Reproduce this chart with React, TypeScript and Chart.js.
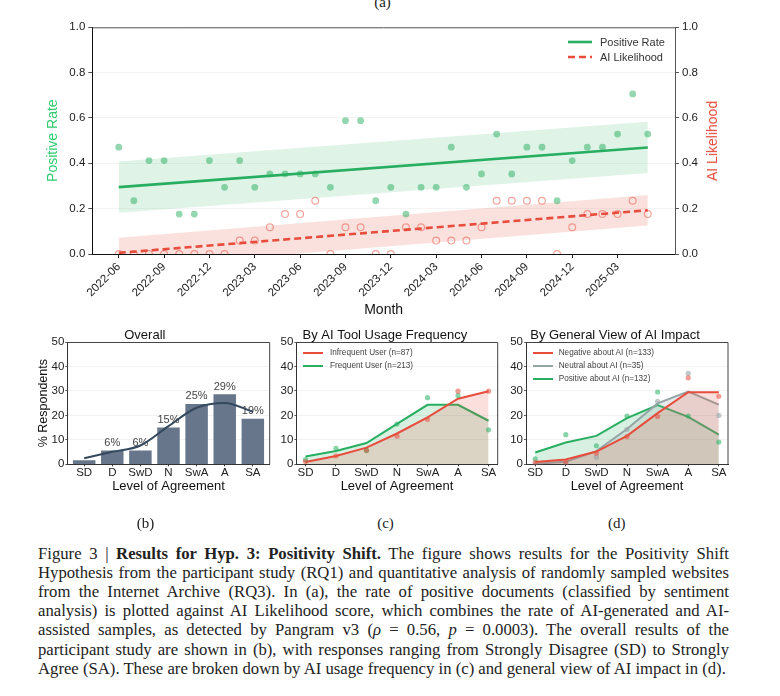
import React, { useEffect, useRef } from 'react';
import { Chart, registerables } from 'chart.js';

Chart.register(...registerables);

// ---------- (a) monthly data ----------
const months = [
  '2022-06', '2022-07', '2022-08', '2022-09', '2022-10', '2022-11', '2022-12',
  '2023-01', '2023-02', '2023-03', '2023-04', '2023-05', '2023-06', '2023-07',
  '2023-08', '2023-09', '2023-10', '2023-11', '2023-12', '2024-01', '2024-02',
  '2024-03', '2024-04', '2024-05', '2024-06', '2024-07', '2024-08', '2024-09',
  '2024-10', '2024-11', '2024-12', '2025-01', '2025-02', '2025-03', '2025-04',
  '2025-05',
];
const monthTickLabels = [
  '2022-06', '2022-09', '2022-12', '2023-03', '2023-06', '2023-09',
  '2023-12', '2024-03', '2024-06', '2024-09', '2024-12', '2025-03',
];
const positiveRate = [
  0.471, 0.235, 0.412, 0.412, 0.176, 0.176, 0.412, 0.294, 0.412, 0.294,
  0.353, 0.353, 0.353, 0.353, 0.294, 0.588, 0.588, 0.235, 0.294, 0.176,
  0.294, 0.294, 0.471, 0.294, 0.353, 0.529, 0.353, 0.471, 0.471, 0.235,
  0.412, 0.471, 0.471, 0.529, 0.706, 0.529,
];
const aiLikelihood = [
  0, 0, 0, 0, 0, 0, 0, 0, 0.059, 0.059,
  0.118, 0.176, 0.176, 0.235, 0, 0.118, 0.118, 0, 0, 0.118,
  0.118, 0.059, 0.059, 0.059, 0.118, 0.235, 0.235, 0.235, 0.235, 0,
  0.118, 0.176, 0.176, 0.176, 0.235, 0.176,
];
const trendMonths = ['2022-06', '2025-05'];
const positiveTrend = [0.295, 0.47];
const positiveBandUpper = [0.408, 0.583];
const positiveBandLower = [0.182, 0.357];
const aiTrend = [0.005, 0.193];
const aiBandUpper = [0.072, 0.26];
const aiBandLower = [-0.062, 0.126];

// ---------- (b)(c)(d) survey data ----------
const levels = ['SD', 'D', 'SwD', 'N', 'SwA', 'A', 'SA'];
const overallPct = [1.67, 5.67, 5.67, 15.0, 24.67, 28.67, 18.67];
const overallLabels = ['', '6%', '6%', '15%', '25%', '29%', '19%'];
const overallSmooth = [2.5, 5.1, 7.7, 15.6, 23.1, 25.1, 21.5];

const infrequentLine = [0.9, 3.4, 6.8, 12.6, 19.2, 26.8, 29.9];
const infrequentPts = [1.15, 3.45, 5.75, 11.49, 18.39, 29.89, 29.89];
const frequentLine = [3.2, 5.4, 8.7, 16.5, 24.3, 24.3, 17.8];
const frequentPts = [1.88, 6.57, 5.63, 16.43, 27.23, 28.17, 14.08];

const negativeLine = [0.9, 2.0, 5.2, 11.6, 20.9, 29.5, 29.5];
const negativePts = [0.75, 0.75, 4.51, 11.28, 19.55, 35.34, 27.82];
const neutralLine = [0.2, 1.0, 5.4, 14.4, 24.9, 29.7, 24.4];
const neutralPts = [0, 0, 2.86, 14.29, 25.71, 37.14, 20.0];
const positiveLine = [4.8, 8.9, 11.6, 18.9, 24.2, 19.4, 12.1];
const positivePts = [2.27, 12.12, 7.58, 19.7, 29.55, 19.7, 9.09];

const FONT = '"Liberation Sans", Arial, Helvetica, sans-serif';
const SERIF = '"Liberation Serif", "Times New Roman", serif';

const GREEN = '#27ae60';
const RED = '#e74c3c';
const GRAY = '#95a5a6';

const pts = (arr: number[]) => arr.map((v, i) => ({ x: i, y: v }));

const framePlugin = {
  id: 'frame',
  afterDatasetsDraw(chart: any, _args: any, opts: any) {
    const { ctx, chartArea: a } = chart;
    ctx.save();
    ctx.strokeStyle = opts.color || '#444';
    ctx.lineWidth = 1;
    ctx.beginPath();
    ctx.moveTo(a.left, a.top + 0.5);
    ctx.lineTo(a.right, a.top + 0.5);
    if (opts.right) ctx.lineTo(a.right, a.bottom);
    ctx.stroke();
    ctx.restore();
  },
};

const barLabelPlugin = {
  id: 'barLabels',
  afterDatasetDraw(chart: any, args: any) {
    if (args.index !== 1) return;
    const ctx = chart.ctx;
    ctx.save();
    ctx.font = `11px ${FONT}`;
    ctx.fillStyle = '#444';
    ctx.textAlign = 'center';
    ctx.textBaseline = 'bottom';
    args.meta.data.forEach((el: any, i: number) => {
      const t = overallLabels[i];
      if (t) ctx.fillText(t, el.x, el.y - 2);
    });
    ctx.restore();
  },
};

function topConfig(): any {
  const t0 = months.indexOf(trendMonths[0]);
  const t1 = months.indexOf(trendMonths[1]);
  const seg = (v: number[]) => [{ x: t0, y: v[0] }, { x: t1, y: v[1] }];
  const tickIdx = monthTickLabels.map((m) => months.indexOf(m));
  const yTicks = { stepSize: 0.2, callback: (v: any) => Number(v).toFixed(1), font: { size: 11.5, family: FONT }, color: '#222', padding: 3 };
  return {
    type: 'scatter',
    data: {
      datasets: [
        { label: 'pos-pts', data: pts(positiveRate), yAxisID: 'y', showLine: false, pointRadius: 3.4, pointBackgroundColor: 'rgba(39,174,96,0.5)', pointBorderWidth: 0, pointBorderColor: 'rgba(0,0,0,0)' },
        { label: 'ai-pts', data: pts(aiLikelihood), yAxisID: 'y2', showLine: false, pointRadius: 3.4, pointBackgroundColor: 'rgba(0,0,0,0)', pointBorderColor: 'rgba(231,76,60,0.5)', pointBorderWidth: 1.2 },
        { label: 'Positive Rate', data: seg(positiveTrend), yAxisID: 'y', showLine: true, borderColor: GREEN, borderWidth: 2.6, pointRadius: 0, fill: false },
        { label: 'AI Likelihood', data: seg(aiTrend), yAxisID: 'y2', showLine: true, borderColor: RED, borderWidth: 2.6, borderDash: [7, 4], pointRadius: 0, fill: false },
        { label: 'pos-up', data: seg(positiveBandUpper), yAxisID: 'y', showLine: true, borderColor: 'rgba(0,0,0,0)', borderWidth: 1, pointRadius: 0, fill: '+1', backgroundColor: 'rgba(39,174,96,0.15)' },
        { label: 'pos-lo', data: seg(positiveBandLower), yAxisID: 'y', showLine: true, borderColor: 'rgba(0,0,0,0)', borderWidth: 1, pointRadius: 0, fill: false },
        { label: 'ai-up', data: seg(aiBandUpper), yAxisID: 'y2', showLine: true, borderColor: 'rgba(0,0,0,0)', borderWidth: 1, pointRadius: 0, fill: '+1', backgroundColor: 'rgba(231,76,60,0.17)' },
        { label: 'ai-lo', data: seg(aiBandLower), yAxisID: 'y2', showLine: true, borderColor: 'rgba(0,0,0,0)', borderWidth: 1, pointRadius: 0, fill: false },
      ],
    },
    options: {
      responsive: false,
      animation: false,
      events: [],
      layout: { padding: { top: 27.3, left: 0, right: 0, bottom: 0 } },
      plugins: { legend: { display: false }, tooltip: { enabled: false }, title: { display: false }, frame: { color: '#555', right: false } },
      scales: {
        x: {
          type: 'linear',
          min: -1.75,
          max: 36.8,
          afterBuildTicks: (s: any) => { s.ticks = tickIdx.map((v) => ({ value: v })); },
          ticks: { callback: (v: any) => months[v], minRotation: 45, maxRotation: 45, autoSkip: false, font: { size: 11.5, family: FONT }, color: '#222', padding: 2 },
          grid: { display: true, drawOnChartArea: false, drawTicks: true, tickLength: 4, color: '#222' },
          border: { display: true, color: '#111', width: 1 },
          title: { display: true, text: 'Month', font: { size: 14, family: FONT }, color: '#111', padding: { top: 0, bottom: 11.6 } },
          afterFit: (s: any) => { s.height = 76; },
        },
        y: {
          type: 'linear',
          position: 'left',
          min: 0,
          max: 1,
          ticks: yTicks,
          grid: { color: '#f1f1f1', lineWidth: 0.8, tickColor: '#222', tickLength: 4 },
          border: { color: '#111' },
          title: { display: true, text: 'Positive Rate', font: { size: 14, family: FONT }, color: '#2ecc71', padding: { top: 44.6, bottom: 0 } },
          afterFit: (s: any) => { s.width = 92.3; },
        },
        y2: {
          type: 'linear',
          position: 'right',
          min: 0,
          max: 1,
          ticks: yTicks,
          grid: { drawOnChartArea: false, color: '#555', tickLength: 4 },
          border: { color: '#555' },
          afterFit: (s: any) => { s.width = 105; },
        },
      },
    },
    plugins: [framePlugin],
  };
}

function panelConfig(p: { type: string; title: string; yW: number; yTitle?: string; xMin: number; xMax: number; datasets: any[]; extraPlugins?: any[] }): any {
  return {
    type: p.type,
    data: { datasets: p.datasets },
    options: {
      responsive: false,
      animation: false,
      events: [],
      layout: { padding: { top: 0, left: 0, right: p.yW, bottom: 0 } },
      plugins: {
        legend: { display: false },
        tooltip: { enabled: false },
        title: { display: true, text: p.title, font: { size: 13, family: FONT, weight: 'normal', lineHeight: 1 }, color: '#111', padding: { top: 7, bottom: 0 } },
        frame: { color: '#444', right: true },
      },
      scales: {
        x: {
          type: 'linear',
          offset: false,
          min: p.xMin,
          max: p.xMax,
          afterBuildTicks: (s: any) => { s.ticks = levels.map((_, i) => ({ value: i })); },
          ticks: { callback: (v: any) => levels[v], minRotation: 0, maxRotation: 0, autoSkip: false, font: { size: 11.5, family: FONT }, color: '#222', padding: 0 },
          grid: { offset: false, drawOnChartArea: false, drawTicks: true, tickLength: 2, color: '#333' },
          border: { color: '#333' },
          title: { display: true, text: 'Level of Agreement', font: { size: 13, family: FONT }, color: '#111', padding: { top: 0, bottom: 3 } },
          afterFit: (s: any) => { s.height = 32.7; },
        },
        y: {
          type: 'linear',
          min: 0,
          max: 50,
          ticks: { stepSize: 10, font: { size: 11.5, family: FONT }, color: '#222', padding: 1 },
          grid: { color: '#efefef', lineWidth: 0.8, tickColor: '#333', tickLength: 2 },
          border: { color: '#333' },
          title: p.yTitle
            ? { display: true, text: p.yTitle, font: { size: 12.5, family: FONT }, color: '#111', padding: { top: 16, bottom: 0 } }
            : { display: false },
          afterFit: (s: any) => { s.width = p.yW; },
        },
      },
    },
    plugins: [framePlugin, ...(p.extraPlugins || [])],
  };
}

const ptsDs = (arr: number[], color: string) => ({
  type: 'scatter', data: pts(arr), showLine: false, pointRadius: 2.6, pointBackgroundColor: color, pointBorderWidth: 0, pointBorderColor: 'rgba(0,0,0,0)',
});
const lineDs = (arr: number[], color: string, fillColor: string) => ({
  type: 'line', data: pts(arr), showLine: true, borderColor: color, borderWidth: 2, pointRadius: 0, fill: 'origin', backgroundColor: fillColor, tension: 0,
});

export default function App() {
  const topRef = useRef<HTMLCanvasElement>(null);
  const bRef = useRef<HTMLCanvasElement>(null);
  const cRef = useRef<HTMLCanvasElement>(null);
  const dRef = useRef<HTMLCanvasElement>(null);

  useEffect(() => {
    Chart.defaults.font.family = FONT;
    const charts: Chart[] = [];
    charts.push(new Chart(topRef.current as HTMLCanvasElement, topConfig()));
    charts.push(new Chart(bRef.current as HTMLCanvasElement, panelConfig({
      type: 'bar', title: 'Overall', yW: 47.3, yTitle: '% Respondents', xMin: -0.6, xMax: 6.6,
      datasets: [
        { type: 'line', data: pts(overallSmooth), borderColor: '#34495e', borderWidth: 2, pointRadius: 0, cubicInterpolationMode: 'monotone', fill: false },
        { type: 'bar', data: pts(overallPct), backgroundColor: '#67768a', categoryPercentage: 1, barPercentage: 0.8 },
      ],
      extraPlugins: [barLabelPlugin],
    })));
    charts.push(new Chart(cRef.current as HTMLCanvasElement, panelConfig({
      type: 'scatter', title: 'By AI Tool Usage Frequency', yW: 24.3, xMin: -0.3, xMax: 6.3,
      datasets: [
        ptsDs(infrequentPts, 'rgba(231,76,60,0.55)'),
        ptsDs(frequentPts, 'rgba(39,174,96,0.55)'),
        lineDs(infrequentLine, RED, 'rgba(231,76,60,0.18)'),
        lineDs(frequentLine, GREEN, 'rgba(39,174,96,0.18)'),
      ],
    })));
    charts.push(new Chart(dRef.current as HTMLCanvasElement, panelConfig({
      type: 'scatter', title: 'By General View of AI Impact', yW: 24, xMin: -0.3, xMax: 6.3,
      datasets: [
        ptsDs(negativePts, 'rgba(231,76,60,0.55)'),
        ptsDs(neutralPts, 'rgba(149,165,166,0.6)'),
        ptsDs(positivePts, 'rgba(39,174,96,0.55)'),
        lineDs(negativeLine, RED, 'rgba(231,76,60,0.18)'),
        lineDs(neutralLine, GRAY, 'rgba(149,165,166,0.22)'),
        lineDs(positiveLine, GREEN, 'rgba(39,174,96,0.18)'),
      ],
    })));
    return () => charts.forEach((c) => c.destroy());
  }, []);

  const abs = (s: any): any => ({ position: 'absolute', ...s });
  const legendText = (s: any): any => abs({ fontFamily: FONT, whiteSpace: 'nowrap', ...s });
  const sub = (label: string, cx: number, cy: number) => (
    <div style={abs({ left: cx - 20, top: cy - 9, width: 40, textAlign: 'center', fontFamily: SERIF, fontSize: 15, lineHeight: '18px', color: '#222' })}>{label}</div>
  );
  const lineSample = (x: number, y: number, color: string, w: number, len: number, dash?: string) => (
    <svg style={abs({ left: x, top: y - 3, width: len, height: 6 })} width={len} height={6}>
      <line x1={0} y1={3} x2={len} y2={3} stroke={color} strokeWidth={w} strokeDasharray={dash} />
    </svg>
  );
  const legRow = (x: number, y: number, color: string, text: string, tx: number, size: number) => (
    <React.Fragment key={text}>
      {lineSample(x, y, color, 2, 20)}
      <div style={legendText({ left: tx, top: y - 6, fontSize: size, lineHeight: '12px', color: '#444' })}>{text}</div>
    </React.Fragment>
  );

  const captionLines: React.ReactNode[] = [
    <>Figure 3 | <b>Results for Hyp. 3: Positivity Shift.</b> The figure shows results for the Positivity Shift</>,
    <>Hypothesis from the participant study (RQ1) and quantitative analysis of randomly sampled websites</>,
    <>from the Internet Archive (RQ3). In (a), the rate of positive documents (classified by sentiment</>,
    <>analysis) is plotted against AI Likelihood score, which combines the rate of AI-generated and AI-</>,
    <>assisted samples, as detected by Pangram v3 (<i>ρ</i> = 0.56, <i>p</i> = 0.0003). The overall results of the</>,
    <>participant study are shown in (b), with responses ranging from Strongly Disagree (SD) to Strongly</>,
    <>Agree (SA). These are broken down by AI usage frequency in (c) and general view of AI impact in (d).</>,
  ];

  return (
    <div style={{ position: 'absolute', left: 0, top: 0, width: 780, height: 696, background: '#fff', overflow: 'hidden' }}>
      {sub('(a)', 382.5, 2)}
      <canvas ref={topRef} width={780} height={330} style={abs({ left: 0, top: 0, width: 780, height: 330 })} />
      <div style={abs({ left: 711.7, top: 140.6, transform: 'translate(-50%, -50%) rotate(-90deg)', fontFamily: FONT, fontSize: 14, color: RED, whiteSpace: 'nowrap' })}>AI Likelihood</div>
      {lineSample(568, 41.7, GREEN, 2.6, 24)}
      <div style={legendText({ left: 600, top: 34.7, fontSize: 11, lineHeight: '14px', color: '#333' })}>Positive Rate</div>
      {lineSample(568, 56.7, RED, 2.6, 24, '7 4')}
      <div style={legendText({ left: 600, top: 49.7, fontSize: 11, lineHeight: '14px', color: '#333' })}>AI Likelihood</div>

      <canvas ref={bRef} width={297} height={175} style={abs({ left: 20, top: 322, width: 297, height: 175 })} />
      <canvas ref={cRef} width={250} height={175} style={abs({ left: 272.4, top: 322, width: 250, height: 175 })} />
      <canvas ref={dRef} width={250} height={175} style={abs({ left: 502, top: 322, width: 250, height: 175 })} />

      {legRow(303.3, 353.3, RED, 'Infrequent User (n=87)', 330, 8.2)}
      {legRow(303.3, 365.7, GREEN, 'Frequent User (n=213)', 330, 8.2)}
      {legRow(533.3, 353.3, RED, 'Negative about AI (n=133)', 558.7, 8.2)}
      {legRow(533.3, 366, GRAY, 'Neutral about AI (n=35)', 558.7, 8.2)}
      {legRow(533.3, 378.7, GREEN, 'Positive about AI (n=132)', 558.7, 8.2)}

      {sub('(b)', 145.5, 523)}
      {sub('(c)', 385.5, 523)}
      {sub('(d)', 616.7, 523)}

      <div style={abs({ left: 38, top: 543.5, width: 691, fontFamily: SERIF, fontSize: 16.7, lineHeight: '19.2px', color: '#222' })}>
        {captionLines.map((l, i) => (
          <div key={i} style={{ textAlign: 'justify', textAlignLast: i === captionLines.length - 1 ? 'left' : 'justify', whiteSpace: 'nowrap' }}>{l}</div>
        ))}
      </div>
    </div>
  );
}
